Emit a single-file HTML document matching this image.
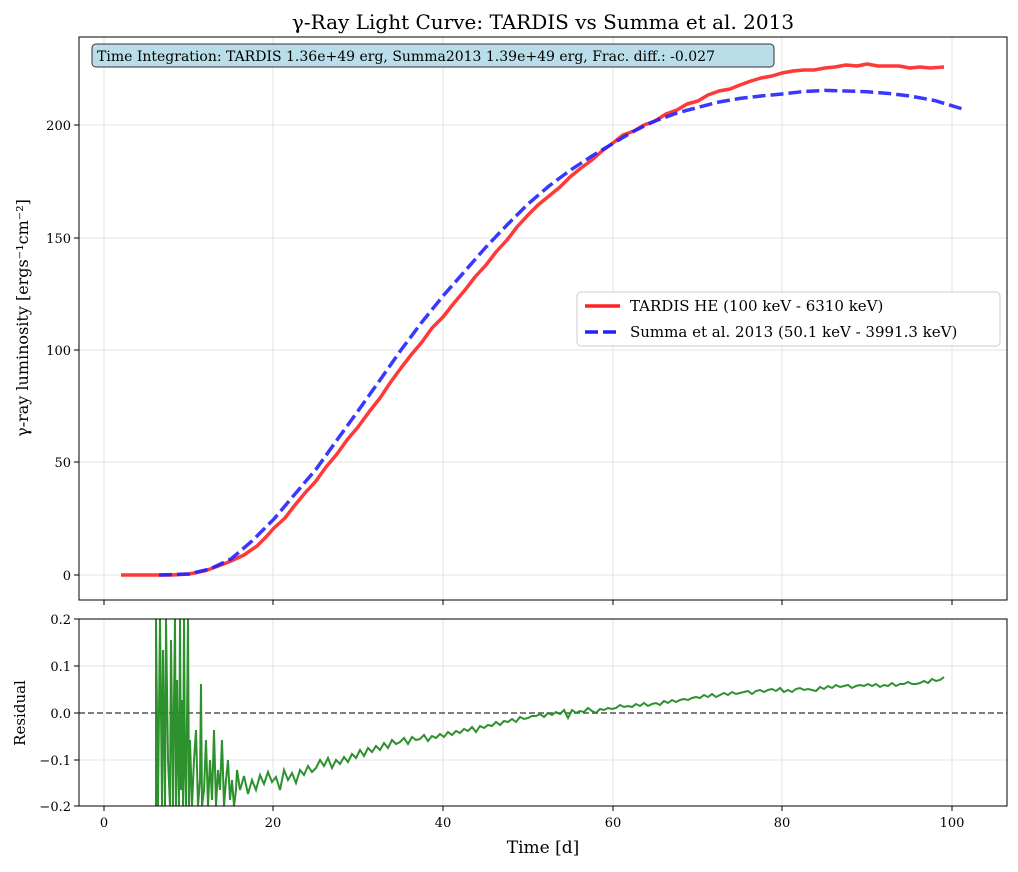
<!DOCTYPE html>
<html><head><meta charset="utf-8"><style>
body{margin:0;background:#fff;}
svg text{font-family:"DejaVu Serif","Liberation Serif",serif;fill:#000;}
</style></head><body>
<svg width="1018" height="867" xmlns="http://www.w3.org/2000/svg">
<rect width="1018" height="867" fill="#fff"/>
<text x="543" y="29" font-size="20" text-anchor="middle">γ-Ray Light Curve: TARDIS vs Summa et al. 2013</text>
<g stroke="#e3e3e3" stroke-width="1">
<line x1="104" y1="37" x2="104" y2="600"/><line x1="273" y1="37" x2="273" y2="600"/><line x1="443" y1="37" x2="443" y2="600"/><line x1="613" y1="37" x2="613" y2="600"/><line x1="782" y1="37" x2="782" y2="600"/><line x1="952" y1="37" x2="952" y2="600"/>
<line x1="79" y1="575" x2="1007" y2="575"/><line x1="79" y1="462" x2="1007" y2="462"/><line x1="79" y1="350" x2="1007" y2="350"/><line x1="79" y1="238" x2="1007" y2="238"/><line x1="79" y1="125" x2="1007" y2="125"/>
<line x1="104" y1="619" x2="104" y2="806"/><line x1="273" y1="619" x2="273" y2="806"/><line x1="443" y1="619" x2="443" y2="806"/><line x1="613" y1="619" x2="613" y2="806"/><line x1="782" y1="619" x2="782" y2="806"/><line x1="952" y1="619" x2="952" y2="806"/>
<line x1="79" y1="666" x2="1007" y2="666"/><line x1="79" y1="760" x2="1007" y2="760"/>
</g>
<polyline fill="none" stroke="#ff2222" stroke-opacity="0.9" stroke-width="3.5" stroke-linejoin="round" points="121,575 172,575 189,574 206,570.5 221,565 231,561 244,555 257,546 266,537 274,528 285,518 295,505 305,493 316,481 326,467 337,454 347,440 358,427 369,412 380,398 390,383 401,368 411,355 422,342 432,328 443,317 454,303 465,290 475,277 486,265 496,252 507,240 517,227 528,215 538,205 549,196 560,187 570,177 581,168 592,160 602,151 613,143 623,135 634,131 644,125 655,121 666,114 677,110 687,104 698,101 708,95 719,91 730,89 740,85 751,81 761,78 772,76 782,73 793,71 804,70 814,70 825,68 835,67 846,65 857,66 867,64 878,66 889,66 899,66 910,68 920,67 930,68 944,67"/>
<polyline fill="none" stroke="#2222ff" stroke-opacity="0.9" stroke-width="3.5" stroke-dasharray="13,5" points="159,575 189,574 210,569 231,559 252,541 274,519 295,494 316,469.3 337,440 358,411 380,380 401,350 422,322 443,296 465,271 486,247 507,225 528,204 549,186 570,170.4 592,156 613,143.4 634,131 655,121 677,113 698,107.4 719,102 740,98.4 761,96 782,94 804,91.5 825,90.4 846,91 867,91.7 889,93.5 910,96 935,100.6 965,109.7"/>
<rect x="92" y="44" width="682" height="23" rx="4" fill="#add8e6" fill-opacity="0.85" stroke="#333" stroke-width="1"/>
<text x="97" y="61" font-size="14">Time Integration: TARDIS 1.36e+49 erg, Summa2013 1.39e+49 erg, Frac. diff.: -0.027</text>
<rect x="577" y="292" width="423" height="54" rx="4" fill="#fff" fill-opacity="0.85" stroke="#ccc"/>
<line x1="585" y1="306" x2="620" y2="306" stroke="#ff2222" stroke-width="3.5"/>
<text x="630" y="311" font-size="15">TARDIS HE (100 keV - 6310 keV)</text>
<line x1="585" y1="332" x2="620" y2="332" stroke="#2222ff" stroke-width="3.5" stroke-dasharray="13,5"/>
<text x="630" y="337" font-size="15">Summa et al. 2013 (50.1 keV - 3991.3 keV)</text>
<rect x="79" y="37" width="928" height="563" fill="none" stroke="#000" stroke-width="1"/>
<g stroke="#000"><line x1="74" y1="575" x2="79" y2="575"/><line x1="74" y1="462" x2="79" y2="462"/><line x1="74" y1="350" x2="79" y2="350"/><line x1="74" y1="238" x2="79" y2="238"/><line x1="74" y1="125" x2="79" y2="125"/>
<line x1="104" y1="600" x2="104" y2="605"/><line x1="273" y1="600" x2="273" y2="605"/><line x1="443" y1="600" x2="443" y2="605"/><line x1="613" y1="600" x2="613" y2="605"/><line x1="782" y1="600" x2="782" y2="605"/><line x1="952" y1="600" x2="952" y2="605"/></g>
<g font-size="13" text-anchor="end"><text x="71" y="580">0</text><text x="71" y="467">50</text><text x="71" y="355">100</text><text x="71" y="243">150</text><text x="71" y="130">200</text></g>
<text transform="translate(28,318) rotate(-90)" font-size="16" text-anchor="middle">γ-ray luminosity [ergs⁻¹cm⁻²]</text>
<line x1="79" y1="713" x2="1007" y2="713" stroke="#555" stroke-width="1.5" stroke-dasharray="6,3"/>
<g stroke="#228b22" stroke-opacity="0.95" stroke-width="2" fill="none">
<polyline points="156,806 156,619 158,806 160,619 162,806 163,650 165,806 166,619 168,760 170,806 171,640 173,806 174,700 175,619 176,806 177,680 178,760 179,806 180,619 181,790 182,700 183,806 184,619 185,770 186,806 187,720 188,619 189,806 190,740 192,806 194,760 196,730 198,806 200,780 201,684 202,806 204,790 206,740 208,806 210,760 212,800 214,730 216,806 218,770 220,790 222,740 224,806 226,780 228,760 230,800 232,780 234,806 236,790 237,770"/>
<polyline points="237,770 240,790 244,776 248,794 252,780 256,790 260,775 264,784 268,772 272,782 276,777 280,790 284,770 288,780 292,773 296,783 300,770 304,775 308,766 312,772 316,768 320,760 324,766 328,758 332,768 336,760 340,764 344,757 348,762 352,754 356,758 360,750 364,756 368,748 372,752 376,746 380,750 384,743 388,748 392,740 396,744 400,742 404,738 408,744 412,737 416,740 420,739 424,735 428,741 432,736 436,738 440,734 444,737 448,732 452,735 456,731 460,733 464,729 468,731 472,727 476,732 480,726 484,728 488,725 492,726 496,722 500,725 504,721 508,722 512,719 516,722 520,717 524,719 528,718 532,716 536,716 540,714 544,717 548,713 552,715 556,712 560,714 564,710 568,718 572,710 576,713 580,711 584,712 588,708 592,711 596,713 600,709 604,710 608,708 612,709 616,708 620,705 624,707 628,706 632,707 636,704 640,706 644,703 648,706 652,704 656,703 660,705 664,701 668,703 672,700 676,702 680,700 684,699 688,700 692,698 696,697 700,698 704,695 708,697 712,694 716,697 720,695 724,693 728,695 732,692 736,694 740,693 744,692 748,691 752,694 756,691 760,690 764,692 768,690 772,689 776,691 780,688 784,692 788,690 792,692 796,689 800,688 804,690 808,689 812,690 816,691 820,687 824,689 828,686 832,688 836,685 840,687 844,686 848,685 852,688 856,686 860,685 864,686 868,684 872,686 876,684 880,687 884,685 888,686 892,683 896,686 900,684 904,684 908,682 912,684 916,684 920,683 924,681 928,683 932,679 936,681 940,680 944,677"/>
</g>
<rect x="79" y="619" width="928" height="187" fill="none" stroke="#000" stroke-width="1"/>
<g stroke="#000"><line x1="74" y1="619" x2="79" y2="619"/><line x1="74" y1="666" x2="79" y2="666"/><line x1="74" y1="713" x2="79" y2="713"/><line x1="74" y1="760" x2="79" y2="760"/><line x1="74" y1="806" x2="79" y2="806"/>
<line x1="104" y1="806" x2="104" y2="811"/><line x1="273" y1="806" x2="273" y2="811"/><line x1="443" y1="806" x2="443" y2="811"/><line x1="613" y1="806" x2="613" y2="811"/><line x1="782" y1="806" x2="782" y2="811"/><line x1="952" y1="806" x2="952" y2="811"/></g>
<g font-size="13" text-anchor="end"><text x="71" y="624">0.2</text><text x="71" y="671">0.1</text><text x="71" y="718">0.0</text><text x="71" y="765">−0.1</text><text x="71" y="811">−0.2</text></g>
<g font-size="13" text-anchor="middle"><text x="104" y="827">0</text><text x="273" y="827">20</text><text x="443" y="827">40</text><text x="613" y="827">60</text><text x="782" y="827">80</text><text x="952" y="827">100</text></g>
<text x="543" y="853" font-size="17" text-anchor="middle">Time [d]</text>
<text transform="translate(25,713) rotate(-90)" font-size="15" text-anchor="middle">Residual</text>
</svg>
</body></html>
